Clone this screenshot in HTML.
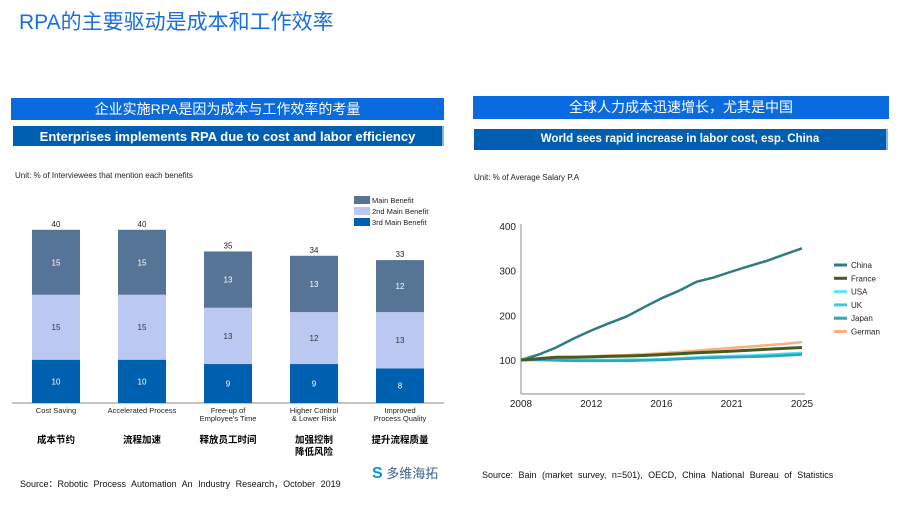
<!DOCTYPE html>
<html><head><meta charset="utf-8">
<style>
body{margin:0;width:916px;height:520px;background:#fff;position:relative;overflow:hidden;font-family:"Liberation Sans","Noto Sans CJK SC",sans-serif;}
.abs{position:absolute;}
.ban1{background:#0a6ae0;color:#fff;text-align:center;font-size:14px;line-height:22px;font-family:"Liberation Sans","Noto Sans CJK SC",sans-serif;}
.ban2{background:#005eb0;color:#fff;text-align:center;font-size:13px;font-weight:bold;line-height:21px;border-right:2px solid #8ab4e0;}
.small{font-size:8px;color:#222;}
</style></head><body>
<div class="abs" style="left:19px;top:6px;font-size:21px;color:#1a6fe0;">RPA的主要驱动是成本和工作效率</div>

<div class="abs ban1" style="left:11px;top:98px;width:433px;height:22px;">企业实施RPA是因为成本与工作效率的考量</div>
<div class="abs ban2" style="left:13px;top:126px;width:429px;height:20px;">Enterprises implements RPA due to cost and labor efficiency</div>
<div class="abs ban1" style="left:473px;top:96px;width:416px;height:23px;line-height:23px;">全球人力成本迅速增长，尤其是中国</div>
<div class="abs ban2" style="left:474px;top:129px;width:412px;height:21px;font-size:11.5px;">World sees rapid increase in labor cost, esp. China</div>

<div class="abs small" style="left:15px;top:171px;">Unit: % of Interviewees that mention each benefits</div>
<div class="abs small" style="left:474px;top:173px;">Unit: % of Average Salary P.A</div>

<svg class="abs" style="left:0;top:0" width="916" height="520" id="svg"></svg>

<div class="abs" style="left:20px;top:477px;font-size:9px;color:#111;word-spacing:3px;">Source：Robotic Process Automation An Industry Research，October 2019</div>
<div class="abs" style="left:482px;top:470px;font-size:9px;color:#111;word-spacing:3px;">Source: Bain (market survey, n=501), OECD, China National Bureau of Statistics</div>
<div class="abs" style="left:372px;top:463px;font-size:13px;color:#3a5f8f;"><span style="color:#1a8fd0;font-weight:bold;font-size:16px;">S</span> 多维海拓</div>

<script>
const NS='http://www.w3.org/2000/svg';
const svg=document.getElementById('svg');
function mk(tag,attrs,parent){const e=document.createElementNS(NS,tag);for(const k in attrs)e.setAttribute(k,attrs[k]);(parent||svg).appendChild(e);return e;}

// ---- Bar chart data ----
const barCats=['Cost Saving','Accelerated Process','Free-up of|Employee\'s Time','Higher Control|& Lower Risk','Improved|Process Quality'];
const barCatsCn=['成本节约','流程加速','释放员工时间','加强控制|降低风险','提升流程质量'];
const mainBenefit=[15,15,13,13,12];
const secondBenefit=[15,15,13,12,13];
const thirdBenefit=[10,10,9,9,8];
const barTotals=[40,40,35,34,33];
const barColors=['#0060b0','#bac8f2','#567496'];

const baseY=403, pxPerUnit=4.33, bx0=32, bStep=86, bW=48;
const yB=v=>baseY-v*pxPerUnit;
mk('line',{x1:12,x2:444,y1:baseY,y2:baseY,stroke:'#888','stroke-width':1});
barCats.forEach((c,i)=>{
  const x=bx0+i*bStep;
  const segs=[thirdBenefit[i],secondBenefit[i],mainBenefit[i]];
  let acc=0;
  segs.forEach((v,j)=>{
    const r=mk('rect',{x:x,y:yB(acc+v),width:bW,height:v*pxPerUnit,fill:barColors[j]});
    
    
    const t=mk('text',{x:x+bW/2,y:yB(acc+v/2)+3,'text-anchor':'middle','font-size':8,fill:j==1?'#333':'#fff'});
    t.textContent=v;
    acc+=v;
  });
  const tt=mk('text',{x:x+bW/2,y:yB(barTotals[i])-3,'text-anchor':'middle','font-size':8,fill:'#222'});
  tt.textContent=barTotals[i];
  c.split('|').forEach((l,k)=>{const t=mk('text',{x:x+bW/2,y:baseY+10+k*8,'text-anchor':'middle','font-size':7.5,fill:'#222'});t.textContent=l;});
  barCatsCn[i].split('|').forEach((l,k)=>{const t=mk('text',{x:x+bW/2,y:baseY+40+k*12,'text-anchor':'middle','font-size':9.5,'font-weight':'bold',fill:'#000'});t.textContent=l;});
});
const legNames=['Main Benefit','2nd Main Benefit','3rd Main Benefit'];
legNames.forEach((n,i)=>{
  const g=mk('g',{});
  
  
  mk('rect',{x:354,y:196+i*11,width:16,height:8,fill:barColors[2-i]},g);
  const t=mk('text',{x:372,y:203+i*11,'font-size':7.5,fill:'#222'},g);t.textContent=n;
});

// ---- Line chart data ----
const xLabels=['2008','2012','2016','2021','2025'];
const yTicks=[100,200,300,400];
const china=[100,112,128,148,166,182,197,218,238,255,275,285,298,310,322,336,350];
const france=[100,103,106,106,107,108,109,110,112,114,116,118,120,122,124,126,128];
const usa=[102,102,101,100,100,100,101,101,102,104,106,108,109,110,112,114,116];
const uk=[100,101,100,99,99,99,100,100,101,103,104,106,107,108,110,112,114];
const japan=[100,100,99,98,98,98,98,99,100,102,104,105,106,107,108,110,112];
const german=[100,104,106,107,108,110,111,113,115,118,121,124,127,130,133,136,140];
const seriesNames=['China','France','USA','UK','Japan','German'];
const seriesData=[china,france,usa,uk,japan,german];
const seriesColors=['#2e7b82','#4a5a1e','#5ee6f5','#45c8dc','#2aa6c0','#f7b080'];

const lx0=521, lx1=802, ly100=360, pxPerVal=0.447;
const xL=i=>lx0+(lx1-lx0)*i/(china.length-1);
const yL=v=>ly100-(v-100)*pxPerVal;
mk('line',{x1:lx0,x2:lx0,y1:224,y2:394,stroke:'#888'});
mk('line',{x1:lx0,x2:lx1+3,y1:394,y2:394,stroke:'#888'});
yTicks.forEach(v=>{const t=mk('text',{x:516,y:yL(v)+4,'text-anchor':'end','font-size':10,fill:'#222'});t.textContent=v;});
xLabels.forEach((l,i)=>{const t=mk('text',{x:lx0+(lx1-lx0)*i/(xLabels.length-1),y:407,'text-anchor':'middle','font-size':10,fill:'#222'});t.textContent=l;});
[5,0,2,3,4,1].forEach(s=>{
  const d=seriesData[s].map((v,i)=>(i?'L':'M')+xL(i).toFixed(1)+','+yL(v).toFixed(1)).join(' ');
  const p=mk('path',{d:d,fill:'none',stroke:seriesColors[s],'stroke-width':s==1?3:2.5});
  
  
});
seriesNames.forEach((n,i)=>{
  const g=mk('g',{});
  
  
  mk('line',{x1:834,x2:847,y1:265+i*13.3,y2:265+i*13.3,stroke:seriesColors[i],'stroke-width':3},g);
  const t=mk('text',{x:851,y:268+i*13.3,'font-size':8,fill:'#222'},g);t.textContent=n;
});
</script>
</body></html>
